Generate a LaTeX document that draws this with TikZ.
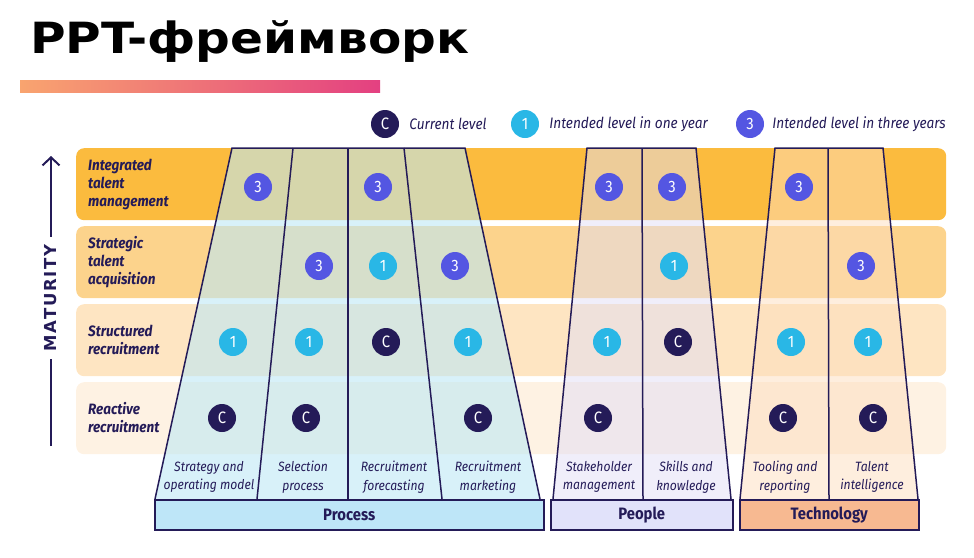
\documentclass[tikz,border=0pt]{standalone}
\usepackage{fontspec}
\setmainfont{Fira Sans}[FakeStretch=0.9]
\newfontfamily\titlefont{DejaVu Sans}
\newfontfamily\matfont{DejaVu Sans}[LetterSpace=10]
\usepackage{tikz}
\usetikzlibrary{calc}
\usetikzlibrary{positioning}
\usetikzlibrary{arrows.meta}
\definecolor{navy}{RGB}{36,27,88}
\definecolor{skyblue}{RGB}{41,183,230}
\definecolor{violetblue}{RGB}{84,86,226}
\definecolor{rowA}{RGB}{251,187,62}
\definecolor{rowB}{RGB}{252,211,140}
\definecolor{rowC}{RGB}{254,229,194}
\definecolor{rowD}{RGB}{254,242,227}
\definecolor{procfill}{RGB}{190,232,245}
\definecolor{peoplefill}{RGB}{225,222,245}
\definecolor{techfill}{RGB}{253,222,190}
\definecolor{procbox}{RGB}{190,230,248}
\definecolor{peoplebox}{RGB}{225,226,250}
\definecolor{techbox}{RGB}{247,185,145}
\definecolor{barorange}{RGB}{250,170,110}
\definecolor{barpink}{RGB}{226,58,130}
\pgfdeclarehorizontalshading{barshade}{100bp}{color(0bp)=(barorange); color(22bp)=(barorange); color(78bp)=(barpink); color(100bp)=(barpink)}
\newcommand{\widthband}{870pt}
\newcommand{\heightband}{72pt}
\tikzset{
    band/.style={anchor=north west, rounded corners=8pt, minimum width=\widthband, minimum height=\heightband, inner sep=0pt},
    rowname/.style={anchor=west, align=left, text=navy, inner sep=0pt, font=\fontsize{15}{18}\selectfont\bfseries\itshape},
    colname/.style={align=center, text=navy, inner sep=0pt, font=\fontsize{13.5}{18.5}\selectfont\itshape},
    lvldot/.style={circle, minimum size=28pt, inner sep=0pt, text=white, font=\fontsize{16.5}{16.5}\selectfont},
    current/.style={lvldot, fill=navy},
    oneyear/.style={lvldot, fill=skyblue},
    threeyear/.style={lvldot, fill=violetblue},
    legendtext/.style={text=navy, inner sep=0pt, font=\fontsize{15.2}{15.2}\selectfont\itshape},
    pillar/.style={draw=navy, line width=1.5pt},
    pillarbox/.style={pillar, anchor=north west, minimum height=30pt, inner sep=0pt, text=navy, font=\fontsize{16.5}{16.5}\selectfont\bfseries}
}
\begin{document}
\begin{tikzpicture}[x=1pt, y=-1pt]
    \useasboundingbox (0,0) rectangle (974,557);
    % title and bar
    \node[anchor=base west, inner sep=0pt, font=\fontsize{43}{43}\selectfont\titlefont\bfseries] (title) at (30,53) {\scalebox{1.13}[1]{PPT-фреймворк}};
    \shade[shading=barshade] (20,80) rectangle (380,92);
    % legend
    \node[current] (keyC) at (385,124) {C};
    \node[legendtext, right=10pt of keyC] (keyCtext) {Current level};
    \node[oneyear] (keyA) at (525,124) {1};
    \node[legendtext, right=10pt of keyA] (keyAtext) {Intended level in one year};
    \node[threeyear] (keyB) at (750,124) {3};
    \node[legendtext, right=8pt of keyB] (keyBtext) {Intended level in three years};
    % maturity bands
    \node[band, fill=rowA] (bandA) at (76,148) {};
    \node[band, fill=rowB] (bandB) at (76,226) {};
    \node[band, fill=rowC] (bandC) at (76,304) {};
    \node[band, fill=rowD] (bandD) at (76,382) {};
    \node[rowname] (nameA) at (88,184) {Integrated\\talent\\management};
    \node[rowname] (nameB) at (88,262) {Strategic\\talent\\acquisition};
    \node[rowname] (nameC) at (88,340) {Structured\\recruitment};
    \node[rowname] (nameD) at (88,418) {Reactive\\recruitment};
    % maturity axis
    \node[rotate=90, text=navy, inner sep=0pt, font=\fontsize{16.5}{16.5}\selectfont\matfont\bfseries] (maturity) at (51,298) {MATURITY};
    \coordinate (axisbottom) at (51,446);
    \coordinate (axistop) at (51,156);
    \draw[navy, line width=2pt, shorten >=8pt] (axisbottom) -- (maturity.west);
    \draw[navy, line width=2pt, shorten <=8pt, -{Straight Barb[length=8pt, width=17pt]}] (maturity.east) -- (axistop);
    % pillars
    \coordinate (pr0t) at (232,148); \coordinate (pr1t) at (293,148); \coordinate (pr2t) at (348,148);
    \coordinate (pr3t) at (404,148); \coordinate (pr4t) at (465,148);
    \coordinate (pr0b) at (155,499); \coordinate (pr1b) at (257,499); \coordinate (pr2b) at (348,499);
    \coordinate (pr3b) at (442,499); \coordinate (pr4b) at (540,499);
    \coordinate (pe0t) at (587,148); \coordinate (pe1t) at (642,148); \coordinate (pe2t) at (696,148);
    \coordinate (pe0b) at (553,499); \coordinate (pe1b) at (643,499); \coordinate (pe2b) at (731,499);
    \coordinate (te0t) at (775,148); \coordinate (te1t) at (828,148); \coordinate (te2t) at (883,148);
    \coordinate (te0b) at (740,499); \coordinate (te1b) at (829,499); \coordinate (te2b) at (918,499);
    \fill[procfill, opacity=.6] (pr0t) -- (pr4t) -- (pr4b) -- (pr0b) -- cycle;
    \fill[peoplefill, opacity=.5] (pe0t) -- (pe2t) -- (pe2b) -- (pe0b) -- cycle;
    \fill[techfill, opacity=.5] (te0t) -- (te2t) -- (te2b) -- (te0b) -- cycle;
    \draw[pillar] (pr0b) -- (pr0t) -- (pr4t) -- (pr4b);
    \draw[pillar] (pe0b) -- (pe0t) -- (pe2t) -- (pe2b);
    \draw[pillar] (te0b) -- (te0t) -- (te2t) -- (te2b);
    \foreach \i in {1,2,3} {\draw[pillar] (pr\i t) -- (pr\i b);}
    \draw[pillar] (pe1t) -- (pe1b);
    \draw[pillar] (te1t) -- (te1b);
    \node[pillarbox, fill=procbox, minimum width=389pt] (process) at (154,499) {Process};
    \node[pillarbox, fill=peoplebox, minimum width=182pt] (people) at (550,499) {People};
    \node[pillarbox, fill=techbox, minimum width=179pt] (technology) at (739,499) {Technology};
    % column names
    \foreach \x/\txt [count=\i] in {209/{Strategy and\\operating model}, 303/{Selection\\process},
        394/{Recruitment\\forecasting}, 488/{Recruitment\\marketing}, 599/{Stakeholder\\management},
        686/{Skills and\\knowledge}, 785/{Tooling and\\reporting}, 872/{Talent\\intelligence}}
        \node[colname] (col\i) at (\x,477) {\txt};
    % levels
    \foreach \x/\y/\s/\t [count=\i] in {258/187/threeyear/3, 378/187/threeyear/3, 609/187/threeyear/3,
        672/187/threeyear/3, 799/187/threeyear/3, 319/266/threeyear/3, 383/266/oneyear/1,
        455/266/threeyear/3, 674/266/oneyear/1, 861/266/threeyear/3, 233/342/oneyear/1,
        309/342/oneyear/1, 386/342/current/C, 468/342/oneyear/1, 607/342/oneyear/1,
        678/342/current/C, 791/342/oneyear/1, 868/342/oneyear/1, 222/418/current/C,
        306/418/current/C, 478/418/current/C, 598/418/current/C, 783/418/current/C, 873/418/current/C}
        \node[\s] (lv\i) at (\x,\y) {\t};
\end{tikzpicture}
\end{document}
